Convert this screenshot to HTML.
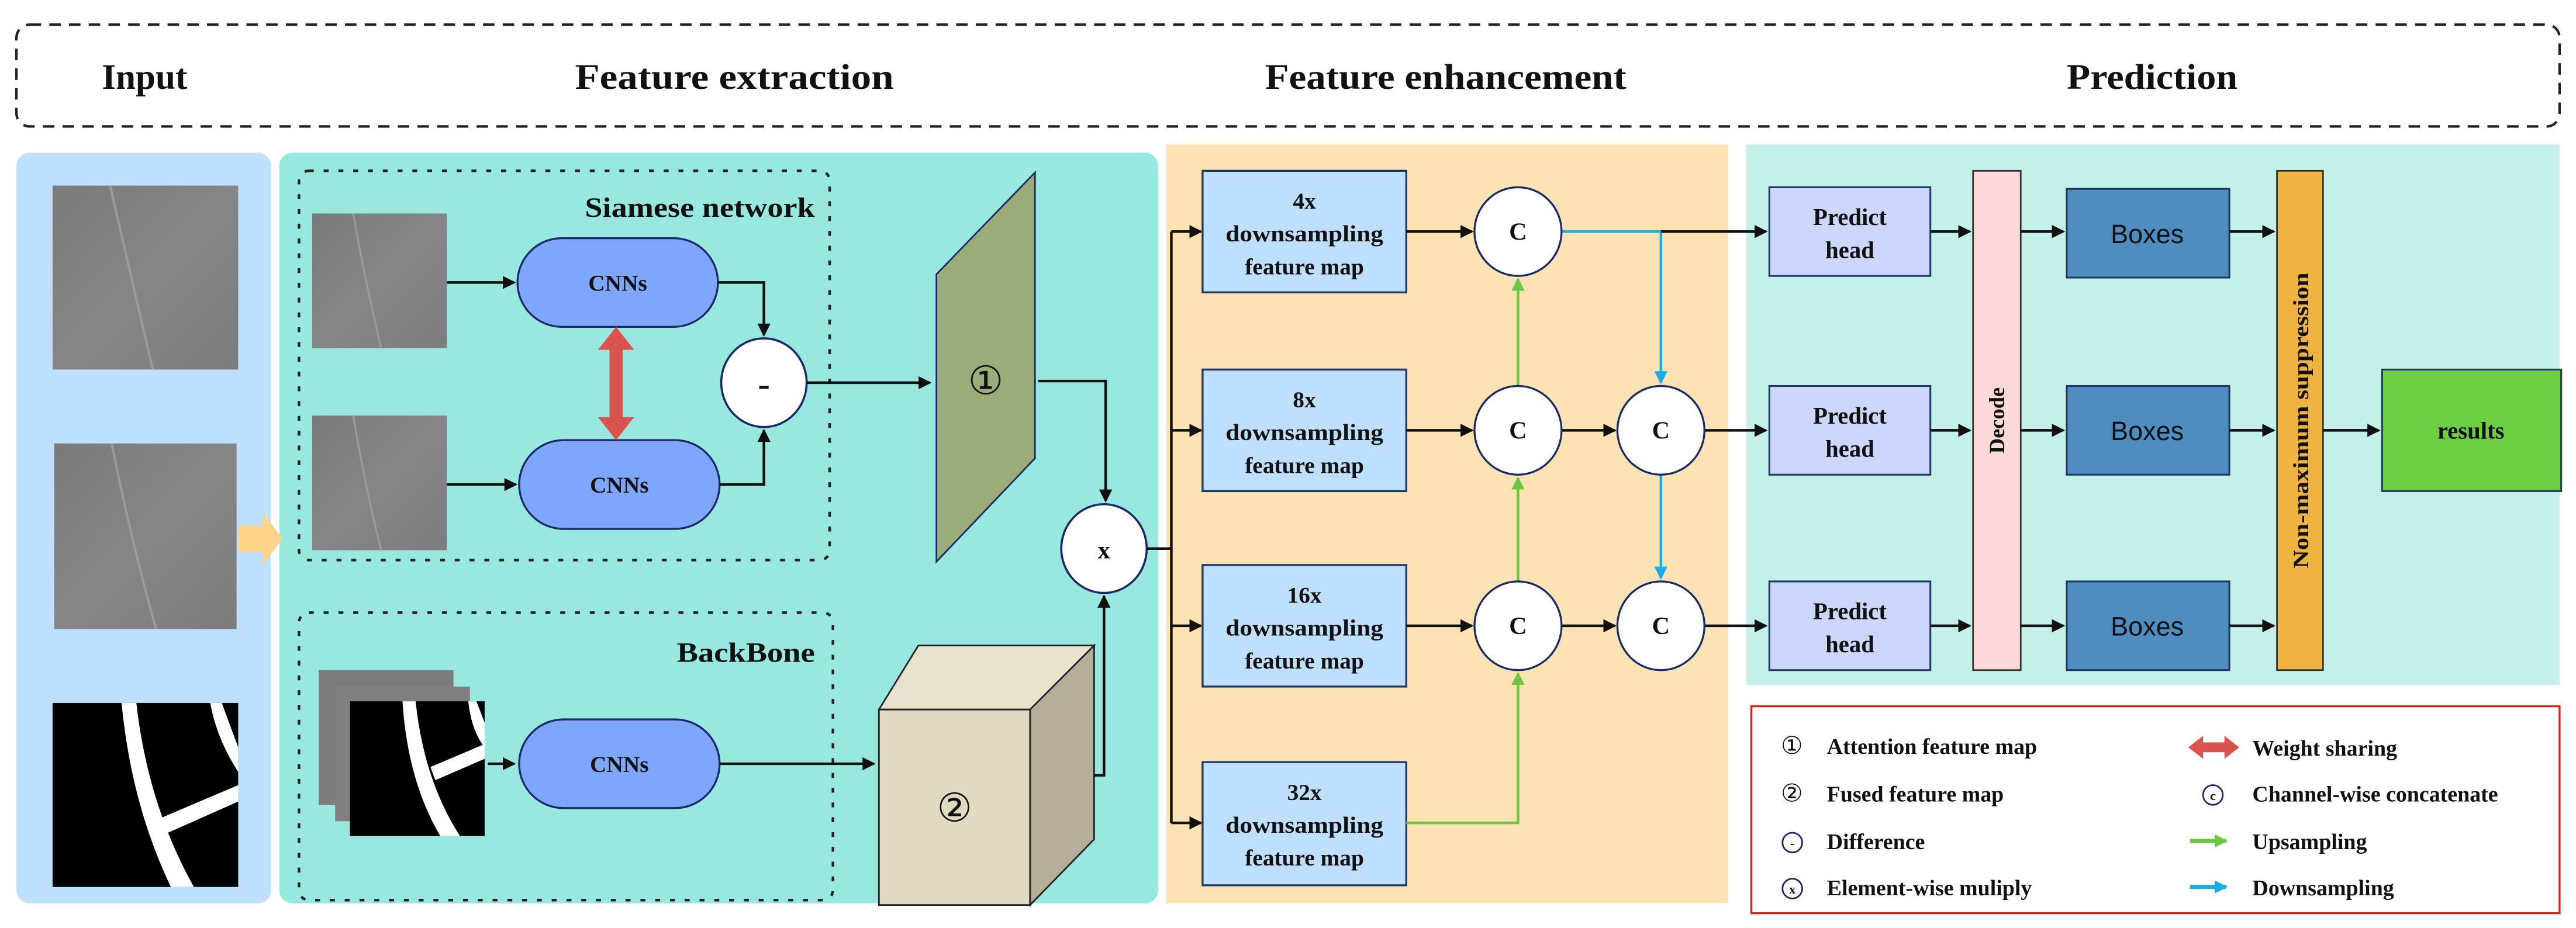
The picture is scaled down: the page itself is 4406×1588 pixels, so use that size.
<!DOCTYPE html>
<html><head><meta charset="utf-8"><style>
html,body{margin:0;padding:0;background:#fff;}
svg{display:block;}
text{font-family:"Liberation Serif",serif;font-weight:bold;fill:#111;}
</style></head><body>
<svg width="4406" height="1588" viewBox="0 0 1568 565" preserveAspectRatio="none" xmlns="http://www.w3.org/2000/svg">
<defs>
<marker id="ak" markerWidth="8" markerHeight="8" refX="7" refY="4" orient="auto" markerUnits="userSpaceOnUse"><path d="M0,0 L8,4 L0,8 z" fill="#111"/></marker>
<marker id="ag" markerWidth="8" markerHeight="8" refX="7" refY="4" orient="auto" markerUnits="userSpaceOnUse"><path d="M0,0 L8,4 L0,8 z" fill="#6cc644"/></marker>
<marker id="ab" markerWidth="8" markerHeight="8" refX="7" refY="4" orient="auto" markerUnits="userSpaceOnUse"><path d="M0,0 L8,4 L0,8 z" fill="#1aaee8"/></marker>
<linearGradient id="gr" x1="0" y1="0" x2="1" y2="1"><stop offset="0" stop-color="#7a7a7a"/><stop offset="0.5" stop-color="#868686"/><stop offset="1" stop-color="#7c7c7c"/></linearGradient>
</defs>
<rect x="10" y="15" width="1548" height="62" rx="8" fill="none" stroke="#222" stroke-width="1.5" stroke-dasharray="7,5"/>
<text x="88" y="54" font-size="22" text-anchor="middle" textLength="52" lengthAdjust="spacingAndGlyphs">Input</text>
<text x="447" y="54" font-size="22" text-anchor="middle" textLength="194" lengthAdjust="spacingAndGlyphs">Feature extraction</text>
<text x="880" y="54" font-size="22" text-anchor="middle" textLength="220" lengthAdjust="spacingAndGlyphs">Feature enhancement</text>
<text x="1310" y="54" font-size="22" text-anchor="middle" textLength="104" lengthAdjust="spacingAndGlyphs">Prediction</text>
<rect x="10" y="93" width="155" height="457" rx="8" fill="#bfdfff"/>
<rect x="170" y="93" width="535" height="457" rx="8" fill="#99e8df"/>
<rect x="710" y="88" width="342" height="462" fill="#fde2b4"/>
<rect x="1063" y="88" width="495" height="329" fill="#c4f0ea"/>
<rect x="32" y="113" width="113" height="112" fill="url(#gr)"/>
<path d="M67,113 Q80,170 93,225" stroke="#9a9a9a" stroke-width="1.5" fill="none"/>
<rect x="33" y="270" width="111" height="113" fill="url(#gr)"/>
<path d="M68,270 Q80,330 95,383" stroke="#9a9a9a" stroke-width="1.5" fill="none"/>
<rect x="32" y="428" width="113" height="112" fill="#000"/>
<path d="M74,428 L83,428 Q90,490 118,540 L104,540 Q80,490 74,428z" fill="#fff"/>
<path d="M128,428 L135,428 L145,455 L145,470 Q132,450 128,428z" fill="#fff"/>
<path d="M98,498 L145,478 L145,488 L100,508z" fill="#fff"/>
<path d="M145,320 L160,320 L160,312 L172,328 L160,344 L160,336 L145,336z" fill="#fdd48a"/>
<rect x="182" y="104" width="323" height="237" rx="6" fill="none" stroke="#222" stroke-width="1.6" stroke-dasharray="3,6"/>
<text x="496" y="132" font-size="17" text-anchor="end" textLength="140" lengthAdjust="spacingAndGlyphs">Siamese network</text>
<rect x="190" y="130" width="82" height="82" fill="url(#gr)"/>
<path d="M215,130 Q222,170 232,212" stroke="#9a9a9a" stroke-width="1.2" fill="none"/>
<rect x="190" y="253" width="82" height="82" fill="url(#gr)"/>
<path d="M215,253 Q222,295 232,335" stroke="#9a9a9a" stroke-width="1.2" fill="none"/>
<rect x="315" y="145" width="122" height="54" rx="27" fill="#7ea6fd" stroke="#1a2a66" stroke-width="1.2"/>
<text x="376" y="177" font-size="14" text-anchor="middle">CNNs</text>
<rect x="316" y="268" width="122" height="54" rx="27" fill="#7ea6fd" stroke="#1a2a66" stroke-width="1.2"/>
<text x="377" y="300" font-size="14" text-anchor="middle">CNNs</text>
<line x1="272" y1="172" x2="313" y2="172" stroke="#111" stroke-width="1.6" marker-end="url(#ak)"/>
<line x1="272" y1="295" x2="314" y2="295" stroke="#111" stroke-width="1.6" marker-end="url(#ak)"/>
<path d="M375,199 L386,213 L379,213 L379,254 L386,254 L375,268 L364,254 L371,254 L371,213 L364,213z" fill="#d9534f"/>
<ellipse cx="465" cy="233" rx="26" ry="27" fill="#fff" stroke="#1a2a66" stroke-width="1.3"/>
<text x="465" y="241" font-size="22" text-anchor="middle">-</text>
<polyline points="437,172 465,172 465,204" fill="none" stroke="#111" stroke-width="1.6" marker-end="url(#ak)"/>
<polyline points="438,295 465,295 465,262" fill="none" stroke="#111" stroke-width="1.6" marker-end="url(#ak)"/>
<line x1="491" y1="233" x2="566" y2="233" stroke="#111" stroke-width="1.6" marker-end="url(#ak)"/>
<polygon points="570,167 630,105 630,279 570,342" fill="#98ad79" stroke="#1a2a66" stroke-width="1"/>
<text x="600" y="240" font-size="24" text-anchor="middle" style="font-weight:normal">①</text>
<polyline points="632,232 673,232 673,305" fill="none" stroke="#111" stroke-width="1.6" marker-end="url(#ak)"/>
<ellipse cx="672" cy="334" rx="26" ry="27" fill="#fff" stroke="#1a2a66" stroke-width="1.3"/>
<text x="672" y="340" font-size="15" text-anchor="middle">x</text>
<rect x="182" y="373" width="325" height="175" rx="6" fill="none" stroke="#222" stroke-width="1.6" stroke-dasharray="3,6"/>
<text x="496" y="403" font-size="17" text-anchor="end" textLength="84" lengthAdjust="spacingAndGlyphs">BackBone</text>
<rect x="194" y="408" width="82" height="82" fill="#7c7c7c"/>
<rect x="204" y="418" width="82" height="82" fill="#808080"/>
<rect x="213" y="427" width="82" height="82" fill="#000"/>
<path d="M245,427 L253,427 Q258,475 280,509 L268,509 Q248,475 245,427z" fill="#fff"/>
<path d="M285,427 L290,427 L295,440 L295,455 Q287,445 285,427z" fill="#fff"/>
<path d="M262,467 L295,453 L295,462 L265,475z" fill="#fff"/>
<line x1="297" y1="465" x2="313" y2="465" stroke="#111" stroke-width="1.6" marker-end="url(#ak)"/>
<rect x="316" y="438" width="122" height="54" rx="27" fill="#7ea6fd" stroke="#1a2a66" stroke-width="1.2"/>
<text x="377" y="470" font-size="14" text-anchor="middle">CNNs</text>
<line x1="438" y1="465" x2="532" y2="465" stroke="#111" stroke-width="1.6" marker-end="url(#ak)"/>
<polygon points="535,432 559,393 666,393 627,432" fill="#e7e2cd" stroke="#222" stroke-width="1"/>
<polygon points="627,432 666,393 666,511 627,551" fill="#b5ae99" stroke="#222" stroke-width="1"/>
<rect x="535" y="432" width="92" height="119" fill="#e0dac3" stroke="#222" stroke-width="1"/>
<text x="581" y="500" font-size="24" text-anchor="middle" style="font-weight:normal">②</text>
<polyline points="666,472 672,472 672,363" fill="none" stroke="#111" stroke-width="1.6" marker-end="url(#ak)"/>
<polyline points="698,334 713,334" fill="none" stroke="#111" stroke-width="1.6"/>
<line x1="713" y1="141" x2="713" y2="501" stroke="#111" stroke-width="1.6"/>
<line x1="713" y1="141" x2="731" y2="141" stroke="#111" stroke-width="1.6" marker-end="url(#ak)"/>
<line x1="713" y1="262" x2="731" y2="262" stroke="#111" stroke-width="1.6" marker-end="url(#ak)"/>
<line x1="713" y1="381" x2="731" y2="381" stroke="#111" stroke-width="1.6" marker-end="url(#ak)"/>
<line x1="713" y1="501" x2="731" y2="501" stroke="#111" stroke-width="1.6" marker-end="url(#ak)"/>
<g font-size="14" text-anchor="middle">
<rect x="732" y="104" width="124" height="74" fill="#bfdfff" stroke="#1f3864" stroke-width="1.2"/>
<text x="794" y="127">4x</text><text x="794" y="147" textLength="96" lengthAdjust="spacingAndGlyphs">downsampling</text><text x="794" y="167">feature map</text>
<rect x="732" y="225" width="124" height="74" fill="#bfdfff" stroke="#1f3864" stroke-width="1.2"/>
<text x="794" y="248">8x</text><text x="794" y="268" textLength="96" lengthAdjust="spacingAndGlyphs">downsampling</text><text x="794" y="288">feature map</text>
<rect x="732" y="344" width="124" height="74" fill="#bfdfff" stroke="#1f3864" stroke-width="1.2"/>
<text x="794" y="367">16x</text><text x="794" y="387" textLength="96" lengthAdjust="spacingAndGlyphs">downsampling</text><text x="794" y="407">feature map</text>
<rect x="732" y="464" width="124" height="75" fill="#bfdfff" stroke="#1f3864" stroke-width="1.2"/>
<text x="794" y="487">32x</text><text x="794" y="507" textLength="96" lengthAdjust="spacingAndGlyphs">downsampling</text><text x="794" y="527">feature map</text>
</g>
<line x1="856" y1="141" x2="896" y2="141" stroke="#111" stroke-width="1.6" marker-end="url(#ak)"/>
<line x1="856" y1="262" x2="896" y2="262" stroke="#111" stroke-width="1.6" marker-end="url(#ak)"/>
<line x1="856" y1="381" x2="896" y2="381" stroke="#111" stroke-width="1.6" marker-end="url(#ak)"/>
<line x1="950" y1="262" x2="983" y2="262" stroke="#111" stroke-width="1.6" marker-end="url(#ak)"/>
<line x1="950" y1="381" x2="983" y2="381" stroke="#111" stroke-width="1.6" marker-end="url(#ak)"/>
<polyline points="856,501 924,501 924,410" fill="none" stroke="#6cc644" stroke-width="1.6" marker-end="url(#ag)"/>
<line x1="924" y1="354" x2="924" y2="291" stroke="#6cc644" stroke-width="1.6" marker-end="url(#ag)"/>
<line x1="924" y1="235" x2="924" y2="170" stroke="#6cc644" stroke-width="1.6" marker-end="url(#ag)"/>
<polyline points="950,141 1011,141 1011,233" fill="none" stroke="#1aaee8" stroke-width="1.6" marker-end="url(#ab)"/>
<line x1="1011" y1="289" x2="1011" y2="352" stroke="#1aaee8" stroke-width="1.6" marker-end="url(#ab)"/>
<line x1="1011" y1="141" x2="1075" y2="141" stroke="#111" stroke-width="1.6" marker-end="url(#ak)"/>
<line x1="1037" y1="262" x2="1075" y2="262" stroke="#111" stroke-width="1.6" marker-end="url(#ak)"/>
<line x1="1037" y1="381" x2="1075" y2="381" stroke="#111" stroke-width="1.6" marker-end="url(#ak)"/>
<g font-size="15" text-anchor="middle">
<ellipse cx="924" cy="141" rx="26.5" ry="27" fill="#fff" stroke="#1a2a66" stroke-width="1.2"/><text x="924" y="146">C</text>
<ellipse cx="924" cy="262" rx="26.5" ry="27" fill="#fff" stroke="#1a2a66" stroke-width="1.2"/><text x="924" y="267">C</text>
<ellipse cx="924" cy="381" rx="26.5" ry="27" fill="#fff" stroke="#1a2a66" stroke-width="1.2"/><text x="924" y="386">C</text>
<ellipse cx="1011" cy="262" rx="26.5" ry="27" fill="#fff" stroke="#1a2a66" stroke-width="1.2"/><text x="1011" y="267">C</text>
<ellipse cx="1011" cy="381" rx="26.5" ry="27" fill="#fff" stroke="#1a2a66" stroke-width="1.2"/><text x="1011" y="386">C</text>
</g>
<g font-size="14.5" text-anchor="middle">
<rect x="1077" y="114" width="98" height="54" fill="#cdd7fd" stroke="#1f3864" stroke-width="1.1"/><text x="1126" y="137">Predict</text><text x="1126" y="157">head</text>
<rect x="1077" y="235" width="98" height="54" fill="#cdd7fd" stroke="#1f3864" stroke-width="1.1"/><text x="1126" y="258">Predict</text><text x="1126" y="278">head</text>
<rect x="1077" y="354" width="98" height="54" fill="#cdd7fd" stroke="#1f3864" stroke-width="1.1"/><text x="1126" y="377">Predict</text><text x="1126" y="397">head</text>
</g>
<rect x="1201" y="104" width="29" height="304" fill="#fdd9d9" stroke="#333" stroke-width="1"/>
<text transform="translate(1220,256) rotate(-90)" font-size="13" text-anchor="middle">Decode</text>
<g font-size="16" text-anchor="middle">
<rect x="1258" y="115" width="99" height="54" fill="#4f8cbf" stroke="#1f3864" stroke-width="1.1"/><text x="1307" y="148" style="font-family:'Liberation Sans',sans-serif;font-weight:normal">Boxes</text>
<rect x="1258" y="235" width="99" height="54" fill="#4f8cbf" stroke="#1f3864" stroke-width="1.1"/><text x="1307" y="268" style="font-family:'Liberation Sans',sans-serif;font-weight:normal">Boxes</text>
<rect x="1258" y="354" width="99" height="54" fill="#4f8cbf" stroke="#1f3864" stroke-width="1.1"/><text x="1307" y="387" style="font-family:'Liberation Sans',sans-serif;font-weight:normal">Boxes</text>
</g>
<rect x="1386" y="104" width="28" height="304" fill="#efb43f" stroke="#333" stroke-width="1"/>
<text transform="translate(1405,256) rotate(-90)" font-size="13" text-anchor="middle" textLength="180" lengthAdjust="spacingAndGlyphs">Non-maximum suppression</text>
<rect x="1450" y="225" width="109" height="74" fill="#6ccf43" stroke="#1f3864" stroke-width="1.1"/>
<text x="1504" y="267" font-size="14.5" text-anchor="middle">results</text>
<g stroke="#111" stroke-width="1.6">
<line x1="1175" y1="141" x2="1199" y2="141" marker-end="url(#ak)"/>
<line x1="1175" y1="262" x2="1199" y2="262" marker-end="url(#ak)"/>
<line x1="1175" y1="381" x2="1199" y2="381" marker-end="url(#ak)"/>
<line x1="1230" y1="141" x2="1256" y2="141" marker-end="url(#ak)"/>
<line x1="1230" y1="262" x2="1256" y2="262" marker-end="url(#ak)"/>
<line x1="1230" y1="381" x2="1256" y2="381" marker-end="url(#ak)"/>
<line x1="1357" y1="141" x2="1384" y2="141" marker-end="url(#ak)"/>
<line x1="1357" y1="262" x2="1384" y2="262" marker-end="url(#ak)"/>
<line x1="1357" y1="381" x2="1384" y2="381" marker-end="url(#ak)"/>
<line x1="1414" y1="262" x2="1448" y2="262" marker-end="url(#ak)"/>
</g>
<rect x="1066" y="430" width="492" height="126" fill="#fff" stroke="#e02020" stroke-width="1.2"/>
<g font-size="13.5">
<text x="1084" y="459" style="font-weight:normal" font-size="15">①</text><text x="1112" y="459">Attention feature map</text>
<text x="1084" y="488" style="font-weight:normal" font-size="15">②</text><text x="1112" y="488">Fused feature map</text>
<circle cx="1091" cy="513" r="6" fill="none" stroke="#1a2a66" stroke-width="1"/><text x="1091" y="516" font-size="8" text-anchor="middle">-</text><text x="1112" y="517">Difference</text>
<circle cx="1091" cy="541" r="6" fill="none" stroke="#1a2a66" stroke-width="1"/><text x="1091" y="544" font-size="8" text-anchor="middle">x</text><text x="1112" y="545">Element-wise muliply</text>
<path d="M1332,455 L1341,448 L1341,452 L1354,452 L1354,448 L1363,455 L1354,462 L1354,458 L1341,458 L1341,462z" fill="#d9534f"/><text x="1371" y="460">Weight sharing</text>
<circle cx="1347" cy="484" r="6" fill="none" stroke="#1a2a66" stroke-width="1"/><text x="1347" y="487" font-size="8" text-anchor="middle">c</text><text x="1371" y="488">Channel-wise concatenate</text>
<line x1="1333" y1="512" x2="1355" y2="512" stroke="#6cc644" stroke-width="2.5" marker-end="url(#ag)"/><text x="1371" y="517">Upsampling</text>
<line x1="1333" y1="540" x2="1355" y2="540" stroke="#1aaee8" stroke-width="2.5" marker-end="url(#ab)"/><text x="1371" y="545">Downsampling</text>
</g>
</svg>
</body></html>
